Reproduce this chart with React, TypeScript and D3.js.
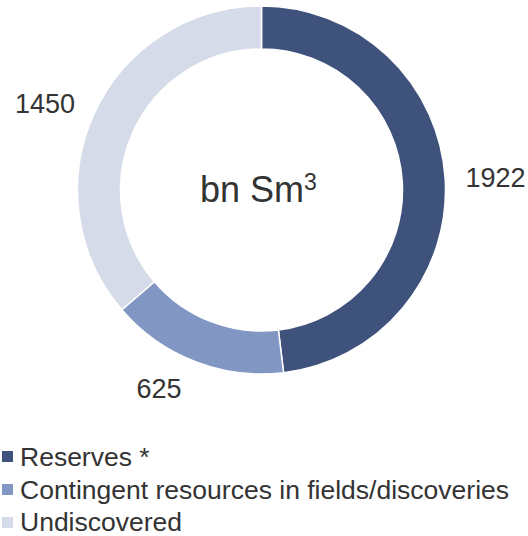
import React from "react";
import * as d3 from "d3";

const categories = ["Reserves *", "Contingent resources in fields/discoveries", "Undiscovered"];
const values = [1922, 625, 1450];
const colors = ["#3F527B", "#8196C2", "#D5DBE9"];

const W = 528, H = 536;
const cx = 261.5, cy = 190, outerR = 184, innerR = 141;

export default function App() {
  const pie = d3.pie<number>().value(d => d).sort(null);
  const arcs = pie(values);
  const arcGen = d3.arc<d3.PieArcDatum<number>>().innerRadius(innerR).outerRadius(outerR);
  const labelPos: [number, number][] = [
    [495.5, 187],
    [159, 398],
    [45, 113],
  ];
  const font = "'Liberation Sans', Arial, sans-serif";
  return (
    <svg width={W} height={H} style={{ position: "absolute", left: 0, top: 0 }}>
      <g transform={`translate(${cx},${cy})`}>
        {arcs.map((a, i) => (
          <path key={i} d={arcGen(a) as string} fill={colors[i]} stroke="#fff" strokeWidth={1.5} />
        ))}
      </g>
      {arcs.map((a, i) => (
        <text key={i} x={labelPos[i][0]} y={labelPos[i][1]} textAnchor="middle"
          fontFamily={font} fontSize={27} fill="#333">{values[i]}</text>
      ))}
      <text x={200} y={202} fontFamily={font} fontSize={36} fill="#333">
        bn Sm<tspan fontSize={23} dy={-12}>3</tspan>
      </text>
      {categories.map((c, i) => (
        <g key={c}>
          <rect x={2} y={451 + i * 33} width={11} height={11} fill={colors[i]} />
          <text x={20} y={466 + i * 32.5} fontFamily={font} fontSize={26.5} fill="#333">{c}</text>
        </g>
      ))}
    </svg>
  );
}
